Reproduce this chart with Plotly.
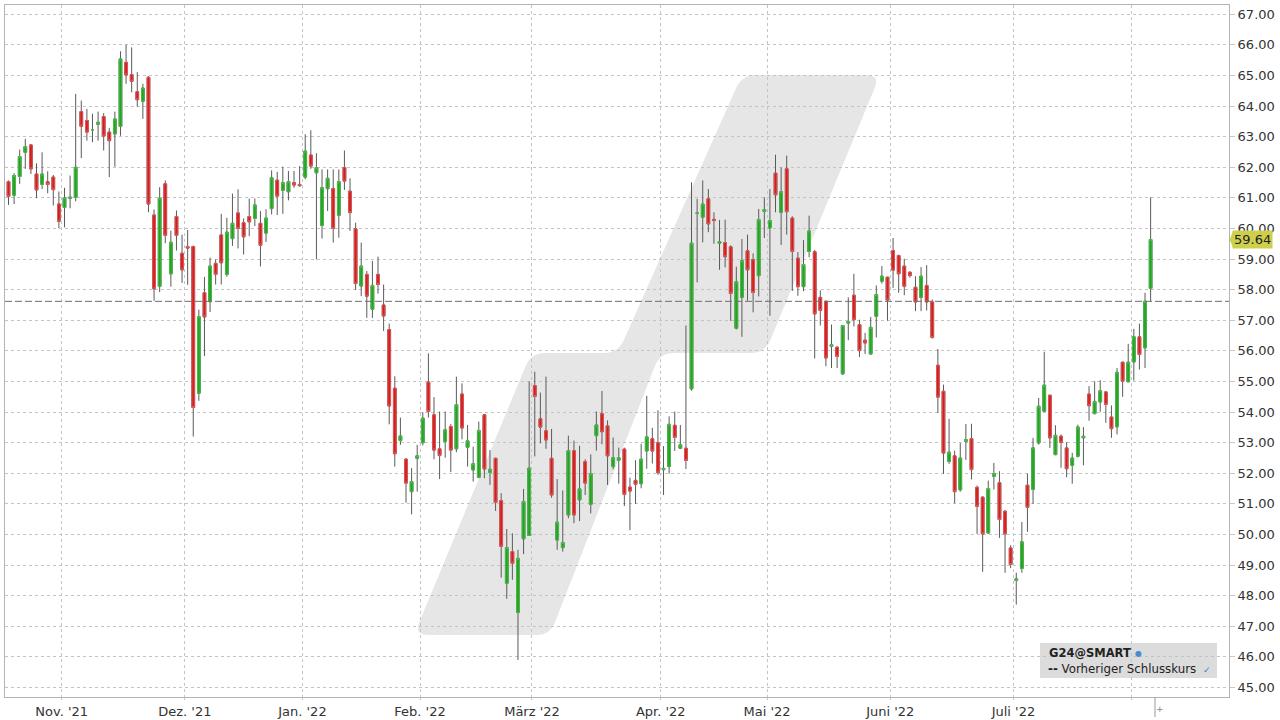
import math
import pandas as pd
import plotly.graph_objects as go

# ---------------- data ----------------
holidays = ["2021-12-24", "2021-12-31", "2022-04-15", "2022-04-18"]
trading_days = pd.bdate_range("2021-10-18", "2022-08-04", freq="C", holidays=holidays)

open_ = [61.53, 61.09, 61.70, 62.49, 62.73, 61.78, 61.44, 61.53, 61.68, 60.80,
         60.69, 60.99, 61.02, 63.82, 63.53, 63.23, 63.41, 63.66, 63.15, 63.09,
         63.34, 65.43, 65.03, 64.47, 64.16, 64.94, 60.44, 58.11, 61.46, 58.52,
         60.39, 59.19, 59.41, 59.41, 54.62, 57.90, 57.61, 58.86, 59.79, 58.50,
         59.67, 60.51, 60.19, 60.39, 60.33, 60.17, 59.85, 60.65, 61.58, 61.25,
         61.20, 61.50, 61.44, 61.68, 62.40, 61.82, 60.10, 61.30, 61.31, 60.43,
         61.99, 61.22, 59.99, 58.12, 58.50, 57.36, 58.50, 57.50, 56.70, 54.78,
         53.07, 52.46, 51.40, 52.49, 53.00, 54.98, 53.91, 52.80, 53.04, 53.53,
         52.80, 54.59, 52.85, 52.11, 51.87, 53.91, 52.03, 52.49, 51.11, 48.41,
         49.44, 47.45, 49.86, 49.97, 54.87, 53.78, 53.39, 52.49, 49.82, 49.57,
         50.64, 52.74, 51.13, 52.38, 50.99, 53.23, 53.95, 53.55, 52.22, 52.43,
         52.79, 51.55, 51.77, 51.66, 52.73, 53.13, 53.00, 52.12, 52.22, 53.57,
         52.82, 52.82, 54.76, 60.50, 60.37, 60.97, 60.30, 59.52, 59.54, 59.40,
         56.74, 57.75, 59.27, 58.98, 58.46, 60.56, 60.02, 61.81, 60.53, 61.95,
         60.34, 59.03, 58.10, 59.25, 59.24, 57.75, 57.62, 56.15, 56.12, 55.25,
         56.91, 57.82, 56.86, 56.35, 55.90, 57.13, 58.28, 58.41, 59.28, 59.12,
         58.77, 58.57, 58.08, 57.75, 58.14, 57.60, 55.53, 54.68, 52.39, 52.57,
         51.46, 53.04, 53.13, 51.54, 51.22, 50.05, 51.90, 51.69, 50.76, 49.56,
         48.50, 48.89, 51.61, 51.47, 52.99, 54.03, 54.55, 52.61, 53.21, 52.83,
         52.26, 52.56, 53.16, 54.59, 53.95, 54.33, 54.66, 53.84, 53.52, 55.63,
         54.99, 55.64, 56.46, 56.10, 58.04]

high = [61.57, 61.81, 62.58, 62.93, 62.76, 62.13, 62.49, 61.87, 61.75, 61.21,
        61.33, 61.73, 64.40, 64.18, 63.91, 63.75, 63.82, 63.77, 63.29, 63.82,
        65.79, 66.01, 65.92, 65.11, 64.73, 64.98, 60.62, 61.35, 61.57, 59.93,
        60.59, 59.80, 59.95, 59.44, 57.35, 58.42, 59.05, 58.99, 60.48, 60.35,
        61.14, 61.28, 60.33, 60.98, 60.98, 60.57, 60.63, 61.90, 61.85, 62.02,
        61.88, 61.88, 62.04, 63.08, 63.21, 62.46, 61.93, 61.93, 61.93, 61.93,
        62.55, 61.64, 60.19, 59.54, 58.61, 58.94, 59.08, 58.17, 56.89, 55.17,
        53.82, 52.50, 52.17, 52.93, 54.00, 55.92, 54.49, 54.02, 54.02, 53.61,
        55.16, 54.94, 53.58, 52.87, 53.69, 53.94, 52.76, 52.51, 51.35, 50.18,
        50.04, 49.50, 51.49, 55.00, 55.32, 54.64, 55.16, 53.45, 51.81, 51.44,
        53.23, 53.07, 52.90, 52.46, 52.62, 54.02, 54.69, 53.73, 53.17, 52.84,
        52.84, 51.86, 52.43, 52.97, 54.53, 53.49, 54.06, 52.89, 53.86, 54.02,
        53.58, 56.83, 61.51, 60.97, 61.57, 61.29, 60.53, 60.28, 60.29, 59.45,
        58.75, 59.66, 59.80, 59.19, 60.64, 61.02, 61.29, 62.41, 62.00, 62.38,
        60.40, 59.23, 59.62, 60.42, 59.30, 57.98, 57.65, 56.86, 56.15, 56.85,
        57.75, 58.52, 57.02, 56.59, 57.11, 58.14, 58.77, 58.42, 59.69, 59.14,
        59.01, 58.60, 58.44, 58.74, 58.80, 57.68, 56.06, 54.90, 53.78, 52.74,
        52.99, 53.61, 53.62, 51.60, 51.25, 51.76, 52.34, 52.07, 50.80, 49.65,
        48.75, 50.41, 51.99, 53.16, 54.46, 55.97, 54.57, 53.57, 53.27, 53.02,
        52.67, 53.59, 53.51, 54.85, 55.01, 55.04, 54.68, 54.22, 55.44, 55.65,
        56.23, 56.72, 56.89, 57.90, 61.02]

low = [60.77, 60.80, 61.46, 61.95, 61.78, 60.99, 61.29, 61.15, 60.75, 60.01,
       60.04, 60.66, 60.89, 62.30, 62.87, 62.82, 62.87, 62.55, 61.68, 62.02,
       63.03, 64.73, 64.45, 63.98, 63.58, 60.53, 57.64, 57.92, 59.52, 58.10,
       59.28, 58.22, 58.16, 53.20, 54.37, 55.83, 57.27, 58.17, 58.17, 58.42,
       59.43, 59.35, 59.15, 59.75, 60.08, 58.76, 59.56, 60.46, 60.44, 60.48,
       60.92, 61.33, 61.36, 61.61, 61.95, 58.99, 59.67, 60.57, 59.54, 59.70,
       61.26, 59.92, 57.99, 57.79, 57.08, 57.08, 57.87, 56.65, 53.60, 52.22,
       52.93, 51.04, 50.66, 51.40, 52.91, 53.82, 52.46, 51.81, 52.51, 52.04,
       52.69, 53.11, 52.22, 51.73, 51.84, 51.84, 51.62, 50.77, 48.59, 47.90,
       48.52, 45.90, 49.36, 49.97, 52.55, 52.98, 52.80, 51.20, 49.50, 49.44,
       50.53, 50.37, 50.44, 51.29, 50.69, 52.74, 52.95, 51.62, 52.13, 51.66,
       50.93, 50.14, 51.00, 51.51, 52.15, 52.32, 51.95, 51.29, 51.99, 52.73,
       52.79, 52.14, 54.70, 58.24, 59.55, 59.88, 59.50, 58.65, 58.73, 56.98,
       56.70, 56.46, 57.64, 57.26, 57.78, 59.69, 57.15, 60.53, 59.46, 59.80,
       57.96, 57.80, 57.95, 59.06, 55.75, 56.83, 55.50, 55.44, 55.44, 55.22,
       56.35, 56.80, 55.80, 55.90, 55.88, 56.44, 58.20, 56.99, 58.06, 57.90,
       57.82, 58.40, 57.30, 57.30, 57.32, 56.40, 53.97, 51.98, 52.31, 51.02,
       51.40, 52.44, 51.80, 50.02, 48.78, 50.02, 51.47, 49.89, 48.75, 48.90,
       47.71, 48.75, 50.09, 51.00, 52.94, 54.00, 52.83, 52.59, 52.18, 51.87,
       51.66, 52.52, 52.26, 53.72, 53.93, 54.01, 53.65, 53.16, 53.27, 54.50,
       54.98, 55.03, 55.39, 55.44, 57.62]

close = [61.05, 61.73, 62.35, 62.68, 61.95, 61.26, 61.78, 61.44, 61.27, 60.24,
         61.00, 61.02, 62.00, 63.34, 63.15, 63.23, 63.47, 63.02, 62.87, 63.58,
         65.54, 65.02, 64.81, 64.21, 64.59, 60.80, 58.03, 60.99, 59.78, 59.55,
         59.78, 58.65, 59.36, 54.15, 57.12, 57.11, 58.77, 58.50, 58.88, 59.88,
         60.17, 60.00, 59.73, 60.22, 60.77, 59.45, 60.34, 61.66, 61.06, 61.50,
         61.53, 61.42, 61.40, 62.53, 62.04, 61.99, 61.33, 61.64, 60.00, 61.53,
         61.55, 60.52, 58.20, 58.77, 57.79, 58.14, 58.17, 57.14, 54.20, 52.64,
         53.22, 51.68, 51.73, 52.57, 53.80, 54.02, 52.76, 52.58, 53.42, 52.76,
         54.24, 53.48, 53.06, 52.31, 53.40, 52.14, 52.13, 51.05, 49.61, 49.57,
         49.06, 49.22, 51.08, 52.17, 54.51, 53.51, 53.09, 51.29, 50.40, 49.74,
         52.74, 50.64, 51.49, 51.68, 51.99, 53.58, 53.36, 52.57, 52.51, 52.51,
         51.31, 51.42, 51.64, 52.46, 53.19, 52.73, 52.02, 52.16, 53.60, 53.17,
         52.93, 52.42, 59.52, 60.50, 60.80, 60.15, 60.26, 59.57, 59.08, 57.88,
         58.26, 58.95, 58.65, 57.91, 60.29, 60.61, 60.26, 61.10, 61.20, 60.55,
         59.25, 58.10, 58.82, 59.92, 57.21, 57.32, 55.77, 56.20, 55.82, 56.83,
         56.96, 57.02, 56.01, 56.26, 56.77, 57.84, 58.44, 57.66, 58.64, 58.52,
         58.11, 58.46, 57.60, 58.44, 57.60, 56.44, 54.49, 52.66, 52.69, 51.40,
         52.50, 53.10, 52.12, 50.92, 50.02, 51.50, 51.99, 50.49, 50.02, 49.02,
         48.55, 49.76, 50.89, 52.83, 54.19, 54.88, 53.16, 53.24, 53.01, 52.15,
         52.50, 53.51, 53.21, 54.21, 54.35, 54.70, 54.25, 53.46, 55.30, 55.01,
         55.63, 56.46, 55.88, 57.62, 59.64]

month_ticks = ["2021-11-01", "2021-12-01", "2022-01-03", "2022-02-01", "2022-03-01",
               "2022-04-01", "2022-05-02", "2022-06-01", "2022-07-01", "2022-08-01"]
month_labels = ["Nov. '21", "Dez. '21", "Jan. '22", "Feb. '22", "März '22",
                "Apr. '22", "Mai '22", "Juni '22", "Juli '22", ""]
y_ticks = list(range(45, 68))

# ---------------- styling ----------------
FONT = "DejaVu Sans"
GREEN = "#22a322"
GREEN_EDGE = "#4cbc4c"
RED = "#d11f1f"
RED_EDGE = "#e25656"
WICK = "#5a5a5a"
GRID = "#c4c4c4"

# layout geometry (pixels)
L, R, T, B = 5, 51, 5, 23
W_PX, H_PX = 1280, 720
PLOT_W = W_PX - L - R
PLOT_H = H_PX - T - B

x_dates = [d + pd.Timedelta(hours=12) for d in trading_days]
body_hi = [max(o, c) for o, c in zip(open_, close)]
body_lo = [min(o, c) for o, c in zip(open_, close)]
prev_close = close[-2]
last_close = close[-1]

fig = go.Figure()

# wicks
fig.add_trace(go.Candlestick(
    x=x_dates, open=open_, high=high, low=low, close=close,
    increasing=dict(line=dict(color=WICK, width=1), fillcolor=WICK),
    decreasing=dict(line=dict(color=WICK, width=1), fillcolor=WICK),
    showlegend=False, hoverinfo="skip", whiskerwidth=0,
))
# bodies
fig.add_trace(go.Candlestick(
    x=x_dates, open=open_, high=body_hi, low=body_lo, close=close,
    increasing=dict(line=dict(color=GREEN_EDGE, width=1), fillcolor=GREEN),
    decreasing=dict(line=dict(color=RED_EDGE, width=1), fillcolor=RED),
    showlegend=False, whiskerwidth=0,
))


def to_paper(px, py):
    return (px - L) / PLOT_W, (H_PX - B - py) / PLOT_H


def rounded_path(pts, r):
    n = len(pts)
    corners = []
    for i in range(n):
        px, py = pts[i]
        qx, qy = pts[i - 1]
        sx, sy = pts[(i + 1) % n]
        d1 = math.hypot(qx - px, qy - py)
        d2 = math.hypot(sx - px, sy - py)
        a = (px + (qx - px) * r / d1, py + (qy - py) * r / d1)
        b = (px + (sx - px) * r / d2, py + (sy - py) * r / d2)
        corners.append((a, (px, py), b))
    def fmt(p):
        x, y = to_paper(*p)
        return f"{x:.5f},{y:.5f}"
    path = "M " + fmt(corners[0][0])
    for a, p, b in corners:
        path += " L " + fmt(a) + " Q " + fmt(p) + " " + fmt(b)
    return path + " Z"


# watermark band
band = [(414, 635), (531, 353), (618, 353), (742, 75), (880, 75),
        (765, 353), (660, 353), (550, 635)]
shapes = [dict(type="path", xref="paper", yref="paper", path=rounded_path(band, 14),
               fillcolor="#e6e6e6", line=dict(width=0), layer="below")]

# legend box
lx0, ly0 = to_paper(1040, 678)
lx1, ly1 = to_paper(1217, 643)
shapes.append(dict(type="rect", xref="paper", yref="paper", x0=lx0, x1=lx1, y0=ly0, y1=ly1,
                   fillcolor="#dcdcdc", line=dict(width=0), layer="below"))

# previous close dashed line
shapes.append(dict(type="line", xref="paper", yref="y", x0=0, x1=1, y0=prev_close, y1=prev_close,
                   line=dict(color="#6e6e6e", width=1, dash="7px,3px")))

# price tag pointer
shapes.append(dict(type="path", xref="paper", yref="y",
                   path=f"M 1.0005,{last_close} L 1.0035,{last_close + 0.29} L 1.0035,{last_close - 0.29} Z",
                   fillcolor="#cfcf4e", line=dict(width=0)))

# small marker line under the last bar
mx, _ = to_paper(1155, 0)
shapes.append(dict(type="line", xref="paper", yref="paper", x0=mx, x1=mx, y0=-0.029, y1=0,
                   line=dict(color="#9a9a9a", width=1)))

annotations = [
    dict(xref="paper", yref="y", x=1, y=last_close, xanchor="left", yanchor="middle",
         xshift=3, text=f"{last_close:.2f}", showarrow=False, bgcolor="#cfcf4e",
         borderpad=1, font=dict(family=FONT, size=13, color="#222")),
]
tx, ty = to_paper(1047, 653)
annotations.append(dict(xref="paper", yref="paper", x=tx, y=ty, xanchor="left", yanchor="middle",
                        text="<b>G24@SMART</b>", showarrow=False,
                        font=dict(family=FONT, size=11.5, color="#222")))
ix, iy = to_paper(1133, 653)
annotations.append(dict(xref="paper", yref="paper", x=ix, y=iy, xanchor="left", yanchor="middle",
                        text="●", showarrow=False, font=dict(family=FONT, size=8, color="#4a8ccf")))
tx2, ty2 = to_paper(1046, 669)
annotations.append(dict(xref="paper", yref="paper", x=tx2, y=ty2, xanchor="left", yanchor="middle",
                        text="<b>--</b> Vorheriger Schlusskurs", showarrow=False,
                        font=dict(family=FONT, size=11.8, color="#222")))
cx, cy = to_paper(1201, 670)
annotations.append(dict(xref="paper", yref="paper", x=cx, y=cy, xanchor="left", yanchor="middle",
                        text="✓", showarrow=False, font=dict(family=FONT, size=9, color="#3f7fd0")))
px_, py_ = to_paper(1160, 709)
annotations.append(dict(xref="paper", yref="paper", x=px_, y=py_, xanchor="center", yanchor="middle",
                        text="+", showarrow=False, font=dict(family=FONT, size=9, color="#888")))

fig.update_layout(
    width=W_PX, height=H_PX,
    margin=dict(l=L, r=R, t=T, b=B, autoexpand=False),
    paper_bgcolor="white", plot_bgcolor="white",
    boxgap=0.3,
    showlegend=False,
    shapes=shapes, annotations=annotations,
    xaxis=dict(
        type="date",
        automargin=False,
        rangeslider=dict(visible=False),
        rangebreaks=[dict(bounds=["sat", "mon"]), dict(values=holidays)],
        range=["2021-10-15 21:00", "2022-08-24 12:00"],
        tickmode="array", tickvals=month_ticks, ticktext=month_labels,
        showgrid=True, gridcolor=GRID, griddash="dot", gridwidth=1,
        showline=True, linecolor="#b4b4b4", linewidth=1, mirror=True,
        ticks="outside", ticklen=2, tickcolor="#c8c8c8",
        tickfont=dict(family=FONT, size=13, color="#333"),
        fixedrange=True,
    ),
    yaxis=dict(
        side="right",
        automargin=False,
        range=[44.69, 67.304],
        tickmode="array", tickvals=y_ticks, ticktext=[f"{v:.2f}" for v in y_ticks],
        showgrid=True, gridcolor=GRID, griddash="dot", gridwidth=1,
        showline=True, linecolor="#b4b4b4", linewidth=1, mirror=True,
        ticks="outside", ticklen=5, tickcolor="#c8c8c8",
        tickfont=dict(family=FONT, size=13, color="#333"),
        zeroline=False, fixedrange=True,
    ),
)

fig.write_html(
    "out.html",
    config={"displayModeBar": False},
    post_script="document.body.style.margin='0';document.body.style.overflow='hidden';",
)
